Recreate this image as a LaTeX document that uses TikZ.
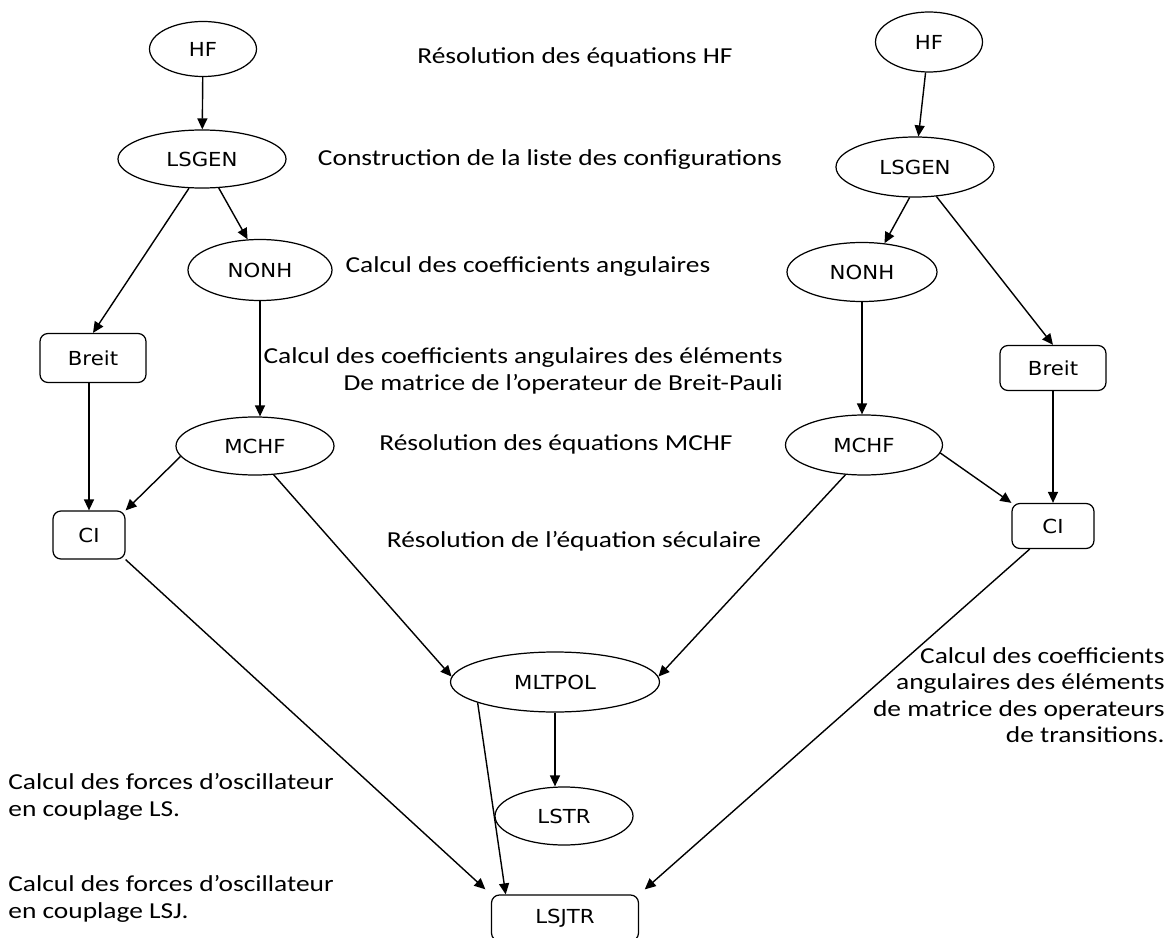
\documentclass[tikz,border=0pt]{standalone}
\usepackage{fontspec}
\setmainfont{Carlito}[FakeStretch=1.2]
\newfontfamily\boxfont{DejaVu Sans}[FakeStretch=1.1]
\usetikzlibrary{shapes.geometric,arrows.meta,calc}

\begin{document}
\begin{tikzpicture}[x=0.2mm, y=-0.2mm,
    oval/.style={ellipse, draw, line width=0.7pt, inner sep=0pt, font=\boxfont\fontsize{11}{13}\selectfont},
    box/.style={rectangle, rounded corners=1.6mm, draw, line width=0.7pt, inner sep=0pt, font=\boxfont\fontsize{11}{13}\selectfont},
    lbl/.style={inner sep=0pt, font=\fontsize{13}{15}\selectfont},
    arr/.style={-{Triangle[length=2.2mm,width=2mm]}, line width=0.8pt}]
    \useasboundingbox (0,0) rectangle (1170,938);

    %left chain
    \node[oval, minimum width=2.14cm, minimum height=1.1cm] (HFa) at (203,49) {HF};
    \node[oval, minimum width=3.36cm, minimum height=1.16cm] (LSGENa) at (202,159) {LSGEN};
    \node[oval, minimum width=2.88cm, minimum height=1.22cm] (NONHa) at (260,270) {NONH};
    \node[oval, minimum width=3.16cm, minimum height=1.16cm] (MCHFa) at (255,446) {MCHF};
    \node[box, minimum width=2.12cm, minimum height=0.98cm] (Breita) at (93,358) {Breit};
    \node[box, minimum width=1.44cm, minimum height=0.96cm] (CIa) at (89,535) {CI};

    %right chain
    \node[oval, minimum width=2.14cm, minimum height=1.2cm] (HFb) at (929,42) {HF};
    \node[oval, minimum width=3.16cm, minimum height=1.2cm] (LSGENb) at (915,167) {LSGEN};
    \node[oval, minimum width=3.0cm, minimum height=1.18cm] (NONHb) at (862,272) {NONH};
    \node[oval, minimum width=3.14cm, minimum height=1.2cm] (MCHFb) at (864,445) {MCHF};
    \node[box, minimum width=2.12cm, minimum height=0.9cm] (Breitb) at (1053,368) {Breit};
    \node[box, minimum width=1.64cm, minimum height=0.9cm] (CIb) at (1053,526) {CI};

    %bottom
    \node[oval, minimum width=4.18cm, minimum height=1.2cm] (MLTPOL) at (555,682) {MLTPOL};
    \node[oval, minimum width=2.76cm, minimum height=1.16cm] (LSTR) at (564,816) {LSTR};
    \node[box, minimum width=2.94cm, minimum height=0.92cm] (LSJTR) at (565,918) {LSJTR};

    %texts
    \node[lbl] (tHF) at (575,57) {Résolution des équations HF};
    \node[lbl] (tLSGEN) at (550,160) {Construction de la liste des configurations};
    \node[lbl] (tNONH) at (528,267) {Calcul des coefficients angulaires};
    \node[lbl, anchor=east, align=right] (tBreit) at (783,371) {Calcul des coefficients angulaires des éléments\\De matrice de l’operateur de Breit-Pauli};
    \node[lbl] (tMCHF) at (556,444) {Résolution des équations MCHF};
    \node[lbl] (tCI) at (574,541) {Résolution de l’équation séculaire};
    \node[lbl, anchor=east, align=right] (tMLTPOL) at (1165,695) {Calcul des coefficients\\angulaires des éléments\\de matrice des operateurs\\de transitions.};
    \node[lbl, anchor=west, align=left] (tLSTR) at (8,797) {Calcul des forces d’oscillateur\\en couplage LS.};
    \node[lbl, anchor=west, align=left] (tLSJTR) at (8,899) {Calcul des forces d’oscillateur\\en couplage LSJ.};

    %arrows left
    \draw[arr] (HFa) -- (LSGENa);
    \draw[arr] (LSGENa.246) -- (Breita.north);
    \draw[arr] (LSGENa.300) -- (NONHa.112);
    \draw[arr] (NONHa.south) -- (NONHa.south |- MCHFa.north);
    \draw[arr] (Breita.south -| CIa.north) -- (CIa.north);
    \draw[arr] (MCHFa.188) -- (CIa.north east);
    \draw[arr] (MCHFa.303) -- (MLTPOL.177);

    %arrows right
    \draw[arr] (HFb) -- (LSGENb);
    \draw[arr] (LSGENb.260) -- (NONHb.52);
    \draw[arr] (LSGENb.306) -- (Breitb.north);
    \draw[arr] (NONHb.south) -- (NONHb.south |- MCHFb.north);
    \draw[arr] (Breitb.south) -- (Breitb.south |- CIb.north);
    \draw[arr] (MCHFb.354) -- (CIb.north west);
    \draw[arr] (MCHFb.238) -- (MLTPOL.3);

    %arrows bottom
    \draw[arr] (MLTPOL.south) -- (MLTPOL.south |- LSTR.north);
    \draw[arr] (MLTPOL.195) -- ($(LSJTR.north west)!0.1!(LSJTR.north east)$);
    \draw[arr, shorten >=1.5mm] (CIa.south east) -- (LSJTR.north west);
    \draw[arr, shorten >=1.5mm] ($(CIb.south west)!0.22!(CIb.south east)$) -- (LSJTR.north east);
\end{tikzpicture}
\end{document}
